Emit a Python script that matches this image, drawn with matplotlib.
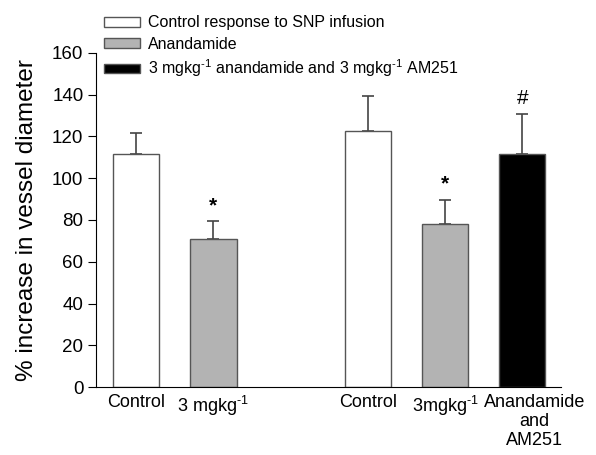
import numpy as np
import matplotlib
matplotlib.use('Agg')
import matplotlib.pyplot as plt
import matplotlib.transforms as mtransforms
from matplotlib.patches import Patch

plt.rcParams['font.family'] = ['Liberation Sans', 'DejaVu Sans']
plt.rcParams['mathtext.fontset'] = 'custom'
plt.rcParams['mathtext.rm'] = 'Liberation Sans'
plt.rcParams['mathtext.it'] = 'Liberation Sans'

# Data
positions = [0, 1, 3, 4, 5]
values = [111.7, 70.8, 122.6, 78.3, 111.4]
errors = [10.1, 8.6, 16.8, 11.2, 19.2]
colors = ['white', '#b3b3b3', 'white', '#b3b3b3', 'black']
tick_labels = ['Control', '3 mgkg$^{\\text{-1}}$', 'Control', '3mgkg$^{\\text{-1}}$',
               'Anandamide\nand\nAM251']
marks = ['', '*', '', '*', '#']
legend_labels = ['Control response to SNP infusion', 'Anandamide',
                 '3 mgkg$^{\\text{-1}}$ anandamide and 3 mgkg$^{\\text{-1}}$ AM251']
legend_colors = ['white', '#b3b3b3', 'black']

fig = plt.figure(figsize=(5.96, 4.55), dpi=100)
ax = fig.add_axes([0.161, 0.149, 0.780, 0.735])

ax.bar(positions, values, width=0.6, color=colors, edgecolor='#555555',
       linewidth=1.0, zorder=2)
ax.errorbar(positions, values, yerr=[np.zeros(len(errors)), errors],
            fmt='none', ecolor='#444444', elinewidth=1.2, capsize=4,
            capthick=1.2, zorder=1)

# significance marks above the error bars
for x, v, e, m in zip(positions, values, errors, marks):
    if m:
        ax.text(x, v + e + 3, m, ha='center', va='bottom', fontsize=15,
                fontweight='bold' if m == '*' else 'normal')

ax.set_xlim(-0.52, 5.5)
ax.set_ylim(0, 160)
ax.set_yticks(np.arange(0, 161, 20))
ax.set_xticks(positions)
ax.set_xticklabels(tick_labels, fontsize=13, linespacing=1.15)
ax.tick_params(axis='x', length=0, pad=5)
ax.tick_params(axis='y', labelsize=13.5, direction='out', length=6, pad=3)
ax.set_ylabel('% increase in vessel diameter', fontsize=17.5, labelpad=10)
ax.spines['top'].set_visible(False)
ax.spines['right'].set_visible(False)

# last label sits a bit right of its bar in the original
last = ax.get_xticklabels()[-1]
last.set_transform(last.get_transform() +
                   mtransforms.ScaledTranslation(0.12, 0, fig.dpi_scale_trans))

handles = [Patch(facecolor=c, edgecolor='#555555') for c in legend_colors]
fig.legend(handles, legend_labels, loc='upper left',
           bbox_to_anchor=(0.174, 0.966), frameon=False, fontsize=11.5,
           handlelength=2.3, handleheight=0.55, labelspacing=0.38,
           borderpad=0, borderaxespad=0, handletextpad=0.5)

fig.savefig('out.png', dpi=100)
